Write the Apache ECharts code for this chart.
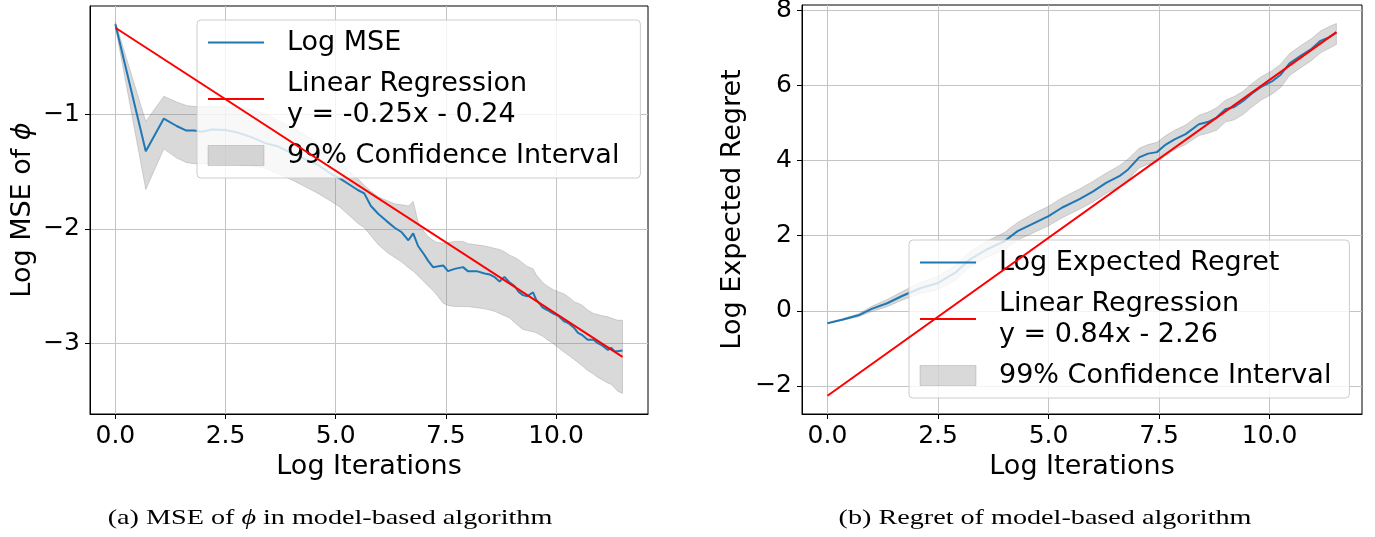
<!DOCTYPE html>
<html>
<head>
<meta charset="utf-8">
<script src="https://cdn.jsdelivr.net/npm/echarts@6/dist/echarts.min.js"></script>
<style>
  html, body { margin: 0; padding: 0; background: #fff; }
  #chart { width: 1375px; height: 537px; }
</style>
</head>
<body>
<div id="chart"></div>
<script>
// ---- panel (a): MSE of phi ----
const xA = [0, 0.69, 1.1, 1.39, 1.61, 1.79, 1.95, 2.2, 2.5, 2.8, 3.1, 3.4, 3.7, 4.0, 4.3, 4.6, 4.9, 5.1, 5.3, 5.5,
  5.65, 5.8, 5.97, 6.15, 6.34, 6.5, 6.65, 6.76, 6.87, 7.0, 7.1, 7.21, 7.3, 7.44, 7.55, 7.7, 7.89, 8.0, 8.2, 8.38,
  8.5, 8.6, 8.72, 8.83, 8.95, 9.06, 9.15, 9.25, 9.35, 9.48, 9.55, 9.7, 9.8, 9.93, 10.05, 10.19, 10.3, 10.42, 10.5,
  10.6, 10.72, 10.85, 10.95, 11.05, 11.18, 11.25, 11.33, 11.4, 11.51];
const mseA = [-0.21, -1.32, -1.035, -1.10, -1.14, -1.14, -1.15, -1.13, -1.135, -1.16, -1.20, -1.25, -1.28, -1.34,
  -1.39, -1.44, -1.52, -1.56, -1.61, -1.66, -1.69, -1.80, -1.87, -1.93, -1.99, -2.03, -2.10, -2.04, -2.15, -2.22,
  -2.28, -2.335, -2.33, -2.32, -2.37, -2.35, -2.335, -2.37, -2.37, -2.39, -2.40, -2.42, -2.46, -2.42, -2.47, -2.50,
  -2.55, -2.58, -2.59, -2.555, -2.62, -2.69, -2.71, -2.74, -2.76, -2.81, -2.83, -2.87, -2.91, -2.93, -2.97, -2.97,
  -3.00, -3.02, -3.06, -3.04, -3.07, -3.07, -3.065];
const upA = [-0.19, -1.06, -0.84, -0.89, -0.92, -0.93, -0.93, -0.93, -0.93, -0.94, -0.96, -0.99, -1.05, -1.11,
  -1.18, -1.25, -1.33, -1.40, -1.50, -1.56, -1.62, -1.67, -1.72, -1.75, -1.78, -1.79, -1.80, -1.76, -1.94, -2.02,
  -2.07, -2.10, -2.12, -2.125, -2.12, -2.11, -2.11, -2.13, -2.14, -2.15, -2.16, -2.17, -2.18, -2.20, -2.23, -2.25,
  -2.27, -2.30, -2.33, -2.35, -2.40, -2.47, -2.50, -2.53, -2.55, -2.57, -2.60, -2.64, -2.65, -2.67, -2.71, -2.74,
  -2.75, -2.76, -2.77, -2.78, -2.79, -2.80, -2.80];
const lowA = [-0.23, -1.655, -1.30, -1.38, -1.42, -1.43, -1.43, -1.43, -1.43, -1.44, -1.45, -1.47, -1.52, -1.57,
  -1.63, -1.69, -1.76, -1.81, -1.88, -1.95, -1.99, -2.06, -2.14, -2.20, -2.25, -2.29, -2.34, -2.37, -2.41, -2.46,
  -2.50, -2.54, -2.58, -2.65, -2.67, -2.68, -2.68, -2.68, -2.69, -2.70, -2.71, -2.72, -2.74, -2.76, -2.78, -2.82,
  -2.85, -2.88, -2.89, -2.90, -2.91, -2.94, -2.97, -3.00, -3.04, -3.08, -3.11, -3.145, -3.17, -3.20, -3.24, -3.27,
  -3.30, -3.32, -3.35, -3.36, -3.39, -3.42, -3.44];
const regXA = [0, 11.51];
const regYA = [-0.24, -3.12];

// ---- panel (b): regret ----
const xB = [0, 0.35, 0.7, 1.0, 1.35, 1.7, 2.1, 2.5, 2.9, 3.2, 3.6, 4.0, 4.3, 4.65, 5.0, 5.3, 5.7, 6.0, 6.3, 6.6,
  6.8, 7.05, 7.25, 7.45, 7.65, 7.85, 8.1, 8.4, 8.6, 8.8, 9.0, 9.2, 9.4, 9.6, 9.8, 10.05, 10.25, 10.45, 10.7, 10.95,
  11.15, 11.35, 11.51];
const regretB = [-0.33, -0.23, -0.12, 0.05, 0.20, 0.40, 0.60, 0.74, 1.02, 1.35, 1.63, 1.85, 2.12, 2.32, 2.52, 2.74,
  2.97, 3.17, 3.40, 3.58, 3.76, 4.08, 4.18, 4.22, 4.42, 4.56, 4.70, 4.96, 5.02, 5.14, 5.36, 5.42, 5.58, 5.78, 5.95,
  6.10, 6.28, 6.58, 6.78, 6.97, 7.18, 7.28, 7.40];
const upB = [-0.33, -0.21, -0.08, 0.12, 0.30, 0.52, 0.75, 0.92, 1.22, 1.55, 1.85, 2.08, 2.35, 2.58, 2.78, 3.00,
  3.24, 3.44, 3.66, 3.86, 4.04, 4.32, 4.42, 4.48, 4.66, 4.80, 4.94, 5.20, 5.28, 5.40, 5.60, 5.70, 5.84, 6.04, 6.22,
  6.38, 6.56, 6.84, 7.05, 7.24, 7.44, 7.56, 7.64];
const lowB = [-0.33, -0.25, -0.16, -0.02, 0.11, 0.29, 0.46, 0.56, 0.82, 1.15, 1.42, 1.62, 1.88, 2.07, 2.26, 2.47,
  2.70, 2.89, 3.12, 3.30, 3.48, 3.80, 3.90, 3.95, 4.14, 4.28, 4.42, 4.66, 4.72, 4.80, 5.02, 5.08, 5.22, 5.42, 5.60,
  5.76, 5.94, 6.26, 6.46, 6.66, 6.86, 6.98, 7.08];
const regXB = [0, 11.51];
const regYB = [-2.26, 7.41];

// ticks
const xTicks = [0, 2.5, 5, 7.5, 10];
const yTicksA = [-3, -2, -1];
const yTicksB = [-2, 0, 2, 4, 6, 8];

const FONT = 'DejaVu Sans';
const BLUE = '#1f77b4';
const BAND = 'rgba(128,128,128,0.3)';

const pairs = (xs, ys) => xs.map((x, i) => [x, ys[i]]);
const minus = v => (v < 0 ? '\u2212' + Math.abs(v) : String(v));

const xAxisCfg = gridIndex => ({
  type: 'value', gridIndex,
  min: -0.576, max: 12.089,
  name: 'Log Iterations', nameLocation: 'middle', nameGap: 39,
  nameTextStyle: { fontSize: 27, color: '#000', fontFamily: FONT },
  axisLine: { onZero: false, lineStyle: { color: '#000', width: 1 } },
  axisTick: { customValues: xTicks, length: 5, lineStyle: { color: '#000' } },
  axisLabel: { customValues: xTicks, formatter: v => v.toFixed(1), fontSize: 25, color: '#000', fontFamily: FONT, margin: 10 },
  splitLine: { show: true, lineStyle: { color: '#c4c4c4', width: 1 } }
});

const yAxisCfg = (gridIndex, min, max, ticks, name, gap) => ({
  type: 'value', gridIndex, min, max,
  name, nameLocation: 'middle', nameGap: gap,
  nameTextStyle: { fontSize: 27, color: '#000', fontFamily: FONT, rich: { i: { fontSize: 27, fontStyle: 'italic', fontFamily: FONT } } },
  axisLine: { onZero: false, lineStyle: { color: '#000', width: 1 } },
  axisTick: { customValues: ticks, length: 5, lineStyle: { color: '#000' } },
  axisLabel: { customValues: ticks, formatter: minus, fontSize: 25, color: '#000', fontFamily: FONT, margin: 10 },
  splitLine: { show: true, lineStyle: { color: '#c4c4c4', width: 1 } }
});

// confidence band: one polygon (upper edge forward, lower edge back) through the axis scales
const bandSeries = (idx, xs, low, up) => ({
  name: '99% Confidence Interval', type: 'custom', xAxisIndex: idx, yAxisIndex: idx,
  data: xs.map((x, i) => [x, low[i], up[i]]),
  encode: { x: 0, y: [1, 2] },
  silent: true, z: 1, clip: true,
  itemStyle: { color: BAND },
  renderItem: (params, api) => {
    if (params.dataIndex !== 0) return null;
    const pts = xs.map((x, i) => api.coord([x, up[i]]));
    for (let i = xs.length - 1; i >= 0; i--) pts.push(api.coord([xs[i], low[i]]));
    return {
      type: 'polygon', shape: { points: pts },
      style: { fill: BAND, stroke: BAND, lineWidth: 1 }
    };
  }
});

const lineSeries = (idx, name, xs, ys, color, z) => ({
  name, type: 'line', xAxisIndex: idx, yAxisIndex: idx,
  data: pairs(xs, ys), symbol: 'none', silent: true, z, color,
  lineStyle: { color, width: 2 }
});

const legendCfg = (left, top, names, padRight) => ({
  orient: 'vertical', left, top,
  padding: [7, padRight, 7, 10], itemGap: 10, itemWidth: 56, itemHeight: 20,
  backgroundColor: 'rgba(255,255,255,0.8)', borderColor: '#cccccc', borderWidth: 1, borderRadius: 4,
  selectedMode: false,
  textStyle: { fontSize: 27, lineHeight: 31, color: '#000', fontFamily: FONT, padding: [0, 0, 0, 18] },
  data: [
    { name: names[0], itemStyle: { opacity: 0 } },
    { name: names[1], itemStyle: { opacity: 0 } },
    { name: '99% Confidence Interval', icon: 'rect', itemStyle: { color: BAND, borderColor: BAND, borderWidth: 1, opacity: 1 } }
  ]
});

const regNameA = 'Linear Regression\ny = -0.25x - 0.24';
const regNameB = 'Linear Regression\ny = 0.84x - 2.26';

const chart = echarts.init(document.getElementById('chart'), null, { renderer: 'canvas' });
chart.setOption({
  animation: false,
  backgroundColor: '#fff',
  grid: [
    { left: 90, top: 6, width: 558, height: 408, show: true, borderColor: '#000', borderWidth: 1, containLabel: false, outerBoundsMode: 'none' },
    { left: 802, top: 5, width: 560, height: 409, show: true, borderColor: '#000', borderWidth: 1, containLabel: false, outerBoundsMode: 'none' }
  ],
  xAxis: [xAxisCfg(0), xAxisCfg(1)],
  yAxis: [
    yAxisCfg(0, -3.62, -0.05, yTicksA, 'Log MSE of {i|\u03d5}', 54),
    yAxisCfg(1, -2.745, 8.133, yTicksB, 'Log Expected Regret', 56)
  ],
  legend: [
    legendCfg(197, 20, ['Log MSE', regNameA], 21),
    legendCfg(909, 240, ['Log Expected Regret', regNameB], 18)
  ],
  series: [
    bandSeries(0, xA, lowA, upA),
    lineSeries(0, 'Log MSE', xA, mseA, BLUE, 3),
    lineSeries(0, regNameA, regXA, regYA, '#ff0000', 4),
    bandSeries(1, xB, lowB, upB),
    lineSeries(1, 'Log Expected Regret', xB, regretB, BLUE, 3),
    lineSeries(1, regNameB, regXB, regYB, '#ff0000', 4)
  ],
  graphic: [
    {
      type: 'text', x: 330, y: 518, scaleX: 1.28,
      style: {
        text: '(a) MSE of {i|\u03d5} in model-based algorithm',
        fontSize: 22, fontFamily: 'Liberation Serif', fill: '#000', align: 'center', verticalAlign: 'middle',
        rich: { i: { fontSize: 22, fontStyle: 'italic', fontFamily: 'Liberation Serif' } }
      }
    },
    {
      type: 'text', x: 1045, y: 518, scaleX: 1.28,
      style: {
        text: '(b) Regret of model-based algorithm',
        fontSize: 22, fontFamily: 'Liberation Serif', fill: '#000', align: 'center', verticalAlign: 'middle'
      }
    }
  ]
});
</script>
</body>
</html>
